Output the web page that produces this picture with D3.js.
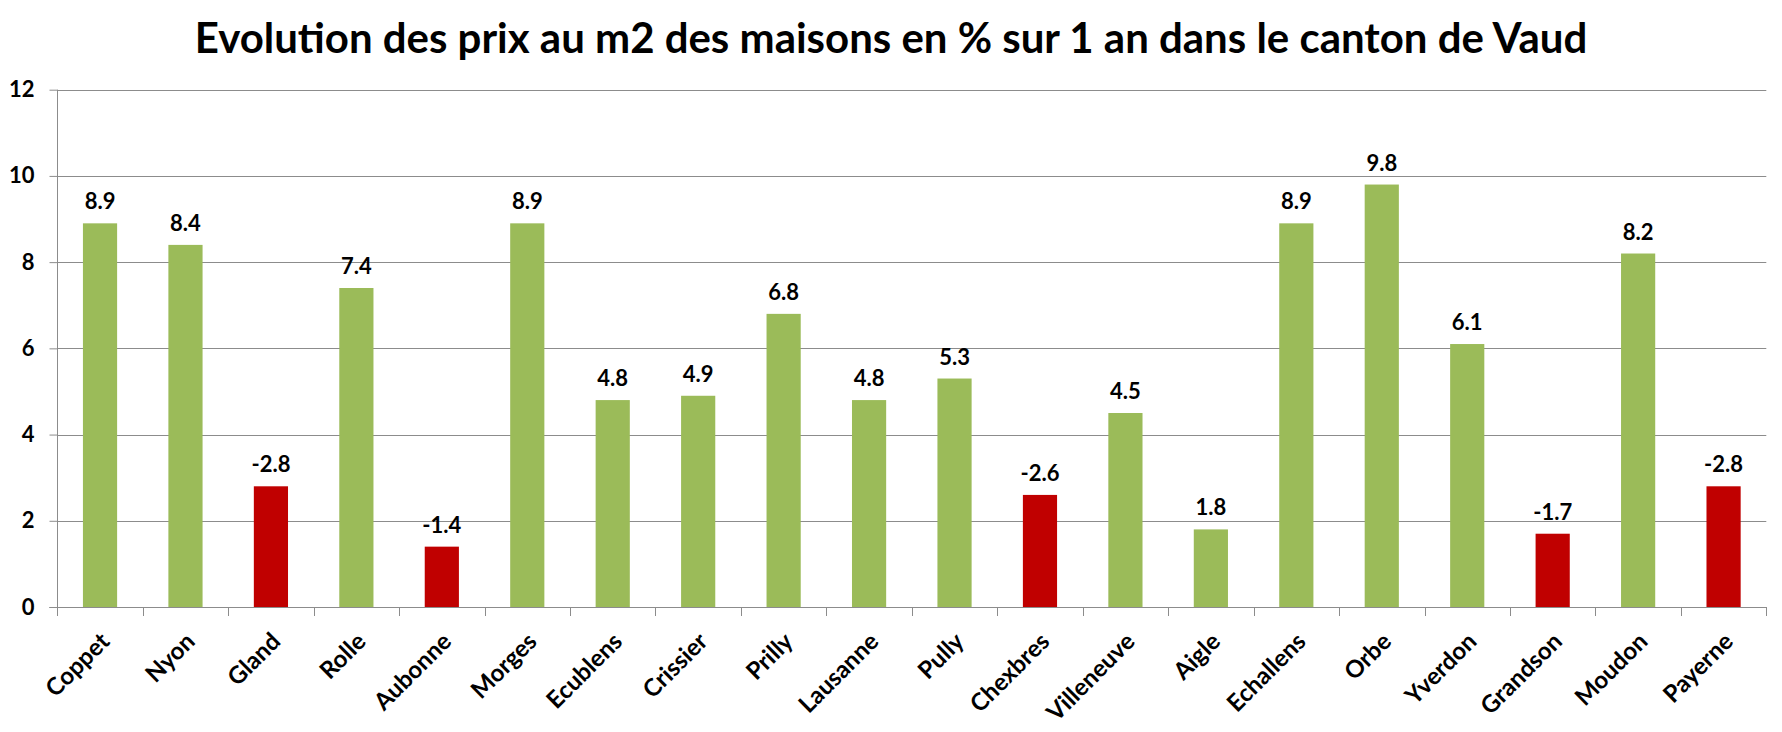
<!DOCTYPE html>
<html>
<head>
<meta charset="utf-8">
<script src="https://cdn.jsdelivr.net/npm/d3@7"></script>
<style>
  body { margin: 0; background: #fff; }
  svg text { font-family: Lato, "Open Sans", sans-serif; font-weight: bold; fill: #000; }
</style>
</head>
<body>
<svg id="chart" width="1782" height="732"></svg>
<script>
// data
var communes = ["Coppet", "Nyon", "Gland", "Rolle", "Aubonne", "Morges", "Ecublens", "Crissier",
    "Prilly", "Lausanne", "Pully", "Chexbres", "Villeneuve", "Aigle", "Echallens", "Orbe",
    "Yverdon", "Grandson", "Moudon", "Payerne"];
var evolution = [8.9, 8.4, -2.8, 7.4, -1.4, 8.9, 4.8, 4.9, 6.8, 4.8, 5.3, -2.6, 4.5, 1.8, 8.9, 9.8,
    6.1, -1.7, 8.2, -2.8];
var yTicks = [0, 2, 4, 6, 8, 10, 12];
var title = "Evolution des prix au m2 des maisons en % sur 1 an dans le canton de Vaud";

var width = 1782, height = 732;
var plot = { left: 57.3, right: 1766.3, top: 89.7, bottom: 607 };
var green = "#9BBB59", red = "#C00000", gridColor = "#8c8c8c";

var rows = communes.map((c, i) => ({ name: c, value: evolution[i] }));

// plain hyphen for negatives, like the original
var fmt = v => d3.format(".1f")(v).replace("\u2212", "-");

var svg = d3.select("#chart");

// scales
var x = d3.scaleBand()
    .domain(communes)
    .range([plot.left, plot.right])
    .paddingInner(0.6)
    .paddingOuter(0.3);

var y = d3.scaleLinear()
    .domain([0, 12])
    .range([plot.bottom, plot.top]);

// tick positions between categories
var edge = d3.scaleLinear().domain([0, communes.length]).range([plot.left, plot.right]);

// title
var t = svg.append("text")
    .attr("x", width / 2)
    .attr("y", 52.7)
    .attr("text-anchor", "middle")
    .style("font-size", "44px")
    .text(title);
var tw = t.node().getComputedTextLength();
t.style("font-size", (44 * 1393 / tw) + "px");

// gridlines
svg.append("g")
    .selectAll("line")
    .data(yTicks.filter(d => d > 0))
    .enter()
    .append("line")
    .attr("x1", plot.left)
    .attr("x2", plot.right)
    .attr("y1", d => Math.round(y(d)) + 0.5)
    .attr("y2", d => Math.round(y(d)) + 0.5)
    .attr("stroke", gridColor)
    .attr("stroke-width", 1);

// bars (negative values drawn as positive height in red)
svg.append("g")
    .selectAll("rect")
    .data(rows)
    .enter()
    .append("rect")
    .attr("x", d => x(d.name))
    .attr("width", x.bandwidth())
    .attr("y", d => y(Math.abs(d.value)))
    .attr("height", d => y(0) - y(Math.abs(d.value)))
    .attr("fill", d => d.value < 0 ? red : green);

// value labels
svg.append("g")
    .selectAll("text")
    .data(rows)
    .enter()
    .append("text")
    .attr("x", d => x(d.name) + x.bandwidth() / 2)
    .attr("y", d => y(Math.abs(d.value)) - 14)
    .attr("text-anchor", "middle")
    .style("font-size", "22px")
    .text(d => fmt(d.value));

// y axis
var yAxis = svg.append("g")
    .attr("transform", "translate(" + (Math.round(plot.left) + 0.5) + ",0)")
    .call(d3.axisLeft(y).tickValues(yTicks).tickSize(8).tickPadding(15).tickFormat(d3.format("d")));
yAxis.select(".domain").attr("stroke", gridColor).attr("d", "M0," + plot.top + "V" + (plot.bottom + 8));
yAxis.selectAll(".tick line").attr("stroke", gridColor);
yAxis.selectAll(".tick text")
    .style("font-size", "22px")
    .style("font-family", "Lato, sans-serif")
    .style("font-weight", "bold")
    .attr("fill", "#000");

// x axis line and ticks
var xAxis = svg.append("g");
xAxis.append("line")
    .attr("x1", plot.left - 8)
    .attr("x2", plot.right)
    .attr("y1", Math.round(y(0)) + 0.5)
    .attr("y2", Math.round(y(0)) + 0.5)
    .attr("stroke", gridColor);
xAxis.selectAll("line.tick")
    .data(d3.range(communes.length + 1))
    .enter()
    .append("line")
    .attr("class", "tick")
    .attr("x1", d => Math.round(edge(d)) + 0.5)
    .attr("x2", d => Math.round(edge(d)) + 0.5)
    .attr("y1", y(0))
    .attr("y2", y(0) + 9)
    .attr("stroke", gridColor);

// category labels, rotated
xAxis.selectAll("text")
    .data(communes)
    .enter()
    .append("text")
    .attr("transform", d => "translate(" + (x(d) + x.bandwidth() / 2 + 5) + "," + (y(0) + 30) + ") rotate(-45)")
    .attr("text-anchor", "end")
    .attr("dy", "0.35em")
    .style("font-size", "24px")
    .text(d => d);
</script>
</body>
</html>
